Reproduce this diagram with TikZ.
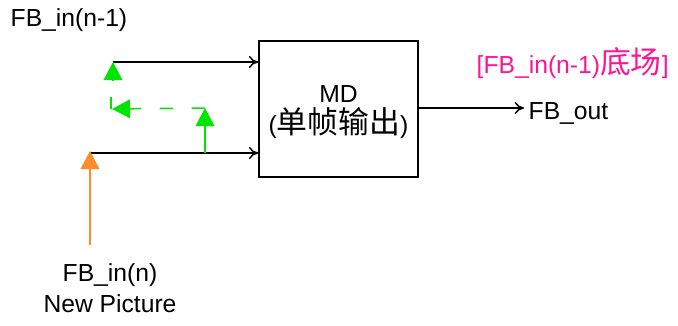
\documentclass[tikz,border=0pt]{standalone}
\usepackage{fontspec}
\setmainfont{Liberation Sans}
\newfontfamily\cjk[Scale=1.25]{Noto Sans CJK SC}
\usepackage{xcolor}
\usetikzlibrary{arrows.meta}

\definecolor{fbgreen}{RGB}{0,230,0}
\definecolor{fborange}{RGB}{255,140,40}
\definecolor{fbpink}{RGB}{255,20,147}

\begin{document}
\begin{tikzpicture}[x=0.75pt,y=-0.75pt,
    every node/.style={font=\fontsize{18.5}{23}\selectfont},
    wire/.style={line width=1.1pt,-{To[length=7pt,width=9pt]}},
    tri/.style={-{Triangle[length=13.5pt,width=14pt]}},
    back/.style={fbgreen,line width=1.1pt}]
    \useasboundingbox (0,0) rectangle (678,325);
    % block
    \node [draw, line width=1.1pt, minimum width=119.25pt, minimum height=102pt] (md) at (338.5,109) {};
    \node [align=center] (mdtext) at (338.5,112) {MD\\({\cjk 单帧输出})};
    % labels
    \node [anchor=west] (prev) at (6,20) {FB\_in(n-1)};
    \node [align=center] (cur) at (110,288) {FB\_in(n)\\New Picture};
    \node [anchor=west] (out) at (524,113) {FB\_out};
    \node [anchor=west, fbpink] (field) at (472,63) {[FB\_in(n-1){\cjk 底场}]};
    % points
    \coordinate (a1) at (113,62);
    \coordinate (a2) at (90,151);
    \coordinate (g0) at (205,153);
    \coordinate (g1) at (205,108);
    \coordinate (g2) at (112,109);
    \coordinate (g3) at (111,97);
    \coordinate (o0) at (90,245);
    \coordinate (t0) at (113,81);
    % connectors
    \draw [wire] (a1) -- (a1 -| md.west);
    \draw [wire] (a2 |- g0) -- (g0 -| md.west);
    \draw [wire] (md.east |- 0,108) -- (out.west |- 0,108);
    \draw [back, tri] (t0) -- (a1);
    \draw [back, tri] (g0) -- (g1);
    \draw [back, tri, dash pattern=on 10pt off 14pt] (g1) -- (g2);
    \draw [back] (g3) -- (g3 |- g2);
    \draw [fborange, line width=1.1pt, tri] (o0) -- (a2);
\end{tikzpicture}
\end{document}
